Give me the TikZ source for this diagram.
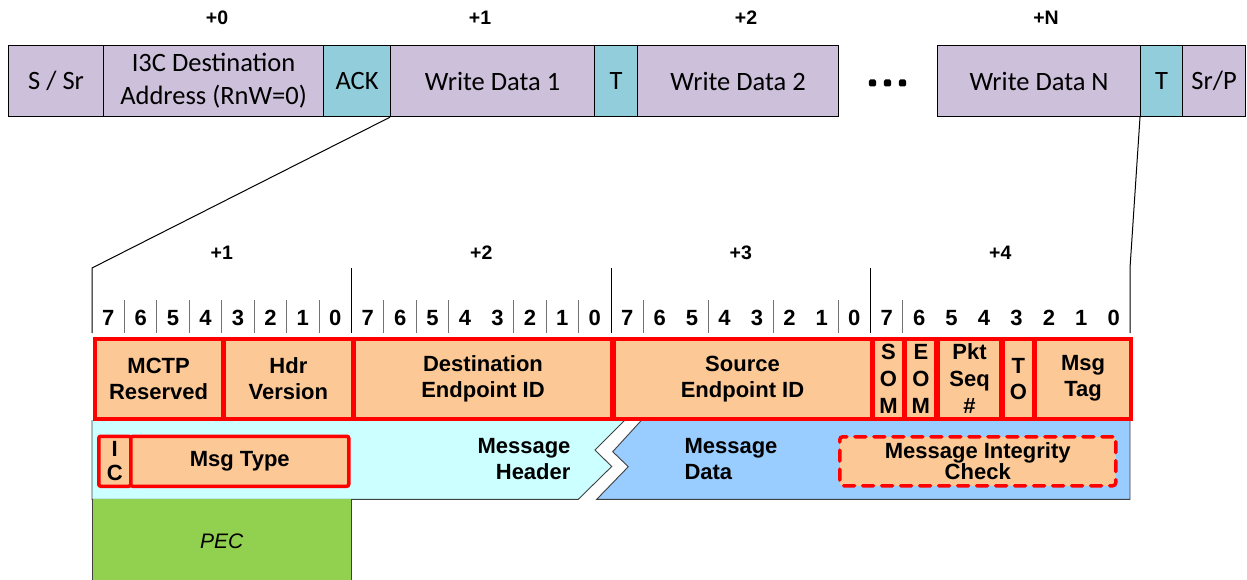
\documentclass[tikz,border=0pt]{standalone}
\usepackage{fontspec}
\setmainfont{Liberation Sans}
\newfontfamily\calfont{Carlito}
\definecolor{lav}{RGB}{204,192,218}
\definecolor{tealc}{RGB}{146,205,220}
\definecolor{peach}{RGB}{252,200,150}
\definecolor{cyanl}{RGB}{204,255,255}
\definecolor{bluel}{RGB}{153,204,255}
\definecolor{greenp}{RGB}{146,208,80}
\definecolor{redf}{RGB}{255,0,0}
\definecolor{edgec}{RGB}{64,64,64}
\begin{document}
\begin{tikzpicture}[x=1pt,y=-1pt,
  tbox/.style={draw=black, line width=1.2pt, fill=lav, inner sep=0pt, anchor=north west,
    minimum height=71pt, align=center, font=\calfont\fontsize{26.5}{33}\selectfont},
  tack/.style={tbox, fill=tealc},
  toplbl/.style={font=\bfseries\fontsize{19.5}{23}\selectfont},
  bytelbl/.style={font=\bfseries\fontsize{19.5}{23}\selectfont},
  bitlbl/.style={font=\bfseries\fontsize{22}{26}\selectfont},
  field/.style={draw=redf, line width=3.5pt, fill=peach, inner sep=0pt, anchor=north west,
    minimum height=80pt, align=center, font=\bfseries\fontsize{22}{26}\selectfont},
  tallfield/.style={field, font=\bfseries\fontsize{22}{27}\selectfont},
  dfield/.style={field, dash pattern=on 11pt off 8pt, line cap=round, rounded corners=3pt,
    font=\bfseries\fontsize{22}{18}\selectfont},
  region/.style={font=\bfseries\fontsize{22}{26}\selectfont},
  conn/.style={draw=black, line width=1pt},
  major/.style={draw=black, line width=1pt},
  minor/.style={draw=black!55, line width=1pt},
  edge/.style={draw=edgec, line width=0.9pt}
]
\useasboundingbox (0,0) rectangle (1247,580);

% ---------- top row ----------
\node[toplbl] (l0) at (217,18) {+0};
\node[toplbl] (l1) at (480,18) {+1};
\node[toplbl] (l2) at (746,18) {+2};
\node[toplbl] (lN) at (1046,18) {+N};

\node[tbox, minimum width=95pt] (ss) at (8,45) {S / Sr};
\node[tbox, minimum width=220pt] (i3c) at (103,45) {I3C Destination\\Address (RnW=0)};
\node[tack, minimum width=67pt] (ack) at (323,45) {ACK};
\node[tbox, minimum width=204pt] (wd1) at (390,45) {Write Data 1};
\node[tack, minimum width=43pt] (t1) at (594,45) {T};
\node[tbox, minimum width=201pt] (wd2) at (637,45) {Write Data 2};
\node[tbox, minimum width=203pt] (wdn) at (937,45) {Write Data N};
\node[tack, minimum width=42pt] (tn) at (1140,45) {T};
\node[tbox, minimum width=63pt] (srp) at (1182,45) {Sr/P};

\foreach \dx in {872.5,887.5,902.5} \fill[black, rounded corners=1.5pt] (\dx-3.6,79.5) rectangle (\dx+3.6,86.5);

% ---------- connectors / scale ----------
\coordinate (bl) at (92,268);
\coordinate (blb) at (92,333);
\coordinate (br) at (1130,268);
\coordinate (brb) at (1130,333);
\draw[conn] (wd1.south west) -- (bl) -- (blb);
\draw[conn] (tn.south west) -- (br) -- (brb);
\foreach \mx in {351.5,611,870.5} \draw[major] (\mx,268) -- (\mx,333);
\foreach \i in {1,...,7,9,10,11,13,14,15,17,...,23,25,...,31}
  \draw[minor] ({92+\i*32.4375},300) -- ({92+\i*32.4375},333);

\node[bytelbl] (b1) at (221.75,253) {+1};
\node[bytelbl] (b2) at (481.25,253) {+2};
\node[bytelbl] (b3) at (740.75,253) {+3};
\node[bytelbl] (b4) at (1000.25,253) {+4};

\foreach \i in {0,...,31} {
  \pgfmathtruncatemacro\bv{7-mod(\i,8)}
  \node[bitlbl] (bit\i) at ({92+(\i+0.5)*32.4375},318) {\bv};
}

% ---------- message regions ----------
\fill[cyanl] (92,420) -- (625,420) -- (595,450) -- (611.7,466.5) -- (578.3,499.3) -- (92,499.3) -- cycle;
\draw[edge] (625,420) -- (595,450) -- (611.7,466.5) -- (578.3,499.3) -- (92,499.3) -- (92,420);
\fill[bluel] (641.7,420) -- (1130,420) -- (1130,499.3) -- (596.7,499.3) -- (628.3,466.7) -- (612.7,451.7) -- cycle;
\draw[edge] (641.7,420) -- (612.7,451.7) -- (628.3,466.7) -- (596.7,499.3) -- (1130,499.3) -- (1130,420);
\fill[greenp] (92,499.3) rectangle (351.5,582);
\draw[edge] (92,499.3) -- (92,582);
\draw[edge] (351.5,499.3) -- (351.5,582);

\node[region, anchor=east, align=right] (mh) at (574,459) {Message\\Header};
\node[region, anchor=west, align=left] (md) at (681,459) {Message\\Data};
\node[font=\itshape\fontsize{21}{25}\selectfont] (pec) at (221.75,541) {PEC};

% ---------- header fields ----------
\node[field, minimum width=127.75pt] (mctp) at (93,337) {MCTP\\Reserved};
\node[field, minimum width=127.75pt] (hdr) at (222.75,337) {Hdr\\Version};
\node[field, minimum width=257.5pt] (dst) at (352.5,337) {Destination\\Endpoint ID};
\node[field, minimum width=257.5pt] (src) at (612,337) {Source\\Endpoint ID};
\node[tallfield, minimum width=30.4pt] (som) at (871.5,337) {S\\O\\M};
\node[tallfield, minimum width=30.5pt] (eom) at (903.9,337) {E\\O\\M};
\node[tallfield, minimum width=62.9pt] (pkt) at (936.4,337) {Pkt\\Seq\\\#};
\node[field, minimum width=30.5pt] (to) at (1001.3,337) {T\\O};
\node[field, minimum width=95.2pt] (tag) at (1033.8,337) {Msg\\Tag};

\node[field, minimum width=32pt, minimum height=50pt, rounded corners=2pt,
  font=\bfseries\fontsize{22}{24}\selectfont] (ic) at (97,434.5) {I\\C};
\node[field, minimum width=218pt, minimum height=50pt, rounded corners=2pt] (mt) at (129,434.5) {Msg Type};
\node[dfield, minimum width=276pt, minimum height=49pt] (mic) at (838,435) {Message Integrity\\Check};
\end{tikzpicture}
\end{document}
